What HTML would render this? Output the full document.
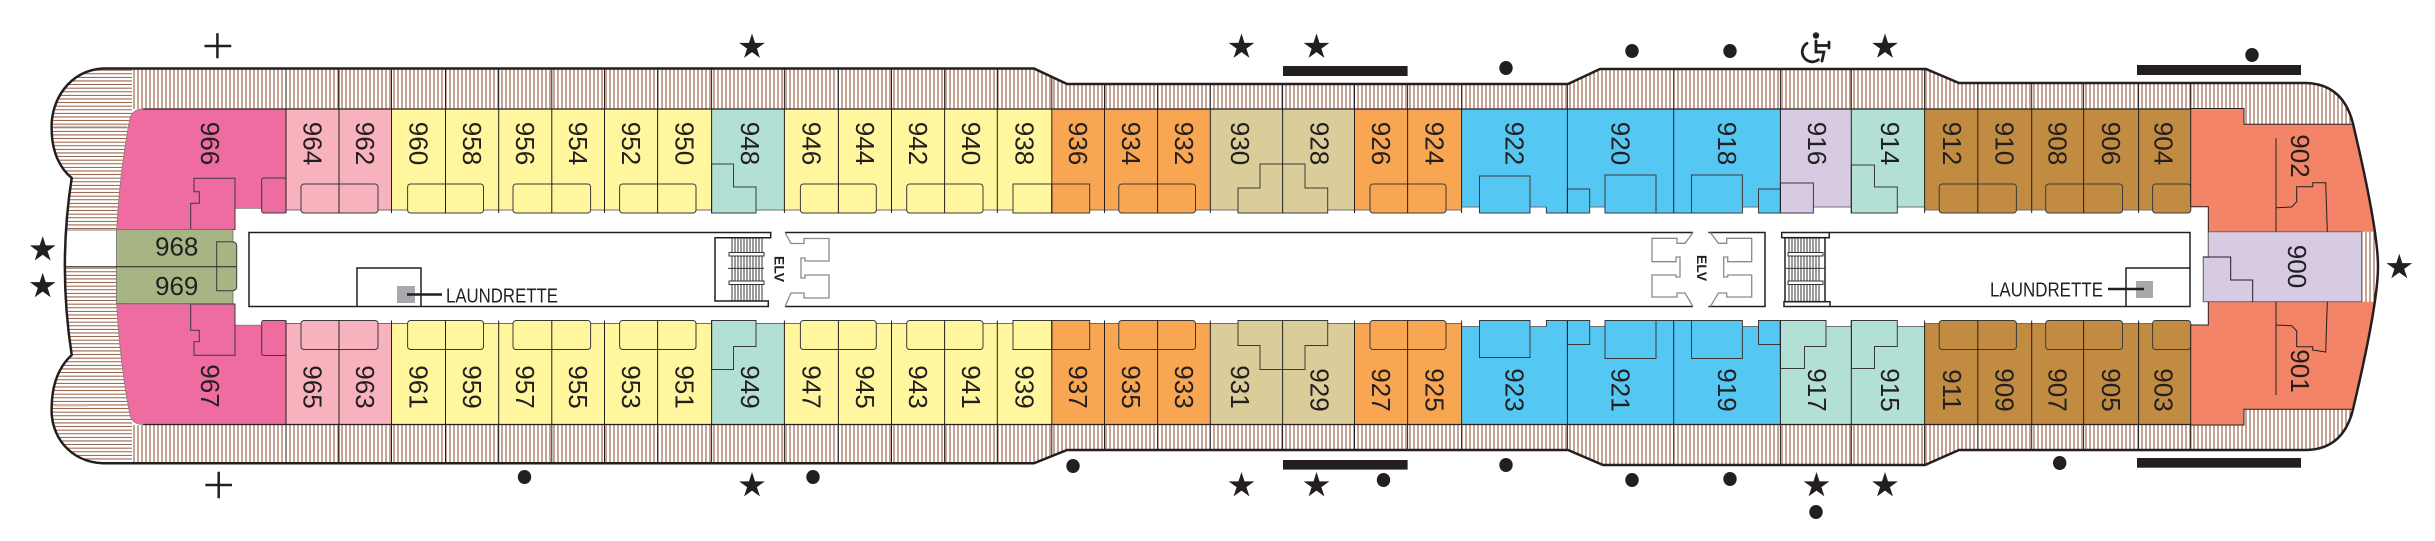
<!DOCTYPE html>
<html><head><meta charset="utf-8"><style>
html,body{margin:0;padding:0;background:#fff;}
svg{display:block;}
text{font-family:"Liberation Sans",sans-serif;fill:#231f20;}
.r{font-size:26px;text-anchor:middle;}
.h{font-size:26px;text-anchor:middle;}
.elv{font-size:14px;font-weight:bold;text-anchor:middle;}
.ld{font-size:20px;}
</style></head><body>
<svg xmlns="http://www.w3.org/2000/svg" width="2435" height="541" viewBox="0 0 2435 541">
<defs>
<pattern id="hv" width="4" height="8" patternUnits="userSpaceOnUse"><rect width="4" height="8" fill="#fff"/><rect x="1.5" width="1" height="8" fill="#8C4B2D"/></pattern>
<pattern id="hh" width="8" height="3.6" patternUnits="userSpaceOnUse"><rect width="8" height="3.6" fill="#fff"/><rect y="1.3" width="8" height="0.9" fill="#8C4B2D"/></pattern>
<clipPath id="hullClip"><path d="M103,68.5 L1034,68.5 L1067,84 L1568,84 L1600,69 L1926,69 L1959,83 L2306,83 Q2345,84 2354,128 Q2378,230 2378,266.5 Q2378,303 2354,405 Q2345,449.5 2306,450 L1959,450 L1925,465 L1603,465 L1568,450 L1067,450 L1034,463.3 L103,463.3 C70,462 50,436 51.7,407 C52,380 62,364 71.7,355 Q58,266.5 71.7,178 C62,170 52,155 51.7,130 C50,100 70,70 103,68.5 Z"/></clipPath>
<clipPath id="cl"><rect x="0" y="0" width="132" height="541"/></clipPath>
<clipPath id="cr"><rect x="132" y="0" width="2303" height="541"/></clipPath>
<path id="star" d="M0,-13.5 L3.03,-4.17 L12.84,-4.17 L4.91,1.59 L7.94,10.92 L0,5.16 L-7.94,10.92 L-4.91,1.59 L-12.84,-4.17 L-3.03,-4.17 Z" fill="#231f20"/>
</defs>

<!-- hatch fills -->
<path d="M103,68.5 L1034,68.5 L1067,84 L1568,84 L1600,69 L1926,69 L1959,83 L2306,83 Q2345,84 2354,128 Q2378,230 2378,266.5 Q2378,303 2354,405 Q2345,449.5 2306,450 L1959,450 L1925,465 L1603,465 L1568,450 L1067,450 L1034,463.3 L103,463.3 C70,462 50,436 51.7,407 C52,380 62,364 71.7,355 Q58,266.5 71.7,178 C62,170 52,155 51.7,130 C50,100 70,70 103,68.5 Z" fill="url(#hh)" clip-path="url(#cl)"/>
<path d="M103,68.5 L1034,68.5 L1067,84 L1568,84 L1600,69 L1926,69 L1959,83 L2306,83 Q2345,84 2354,128 Q2378,230 2378,266.5 Q2378,303 2354,405 Q2345,449.5 2306,450 L1959,450 L1925,465 L1603,465 L1568,450 L1067,450 L1034,463.3 L103,463.3 C70,462 50,436 51.7,407 C52,380 62,364 71.7,355 Q58,266.5 71.7,178 C62,170 52,155 51.7,130 C50,100 70,70 103,68.5 Z" fill="url(#hv)" clip-path="url(#cr)"/>

<!-- bow white patch and light lines -->
<path d="M60,230 L116.5,230 L116.5,266.7 L60,266.7 Z" fill="#fff" clip-path="url(#hullClip)"/>
<path d="M60,230 H116.5" stroke="#555" stroke-width="0.8" clip-path="url(#hullClip)"/>
<path d="M53,126.7 H127" stroke="#cdbcbc" stroke-width="1.6"/>
<path d="M55,405.7 H88" stroke="#cdbcbc" stroke-width="1.6"/>

<!-- white interior -->
<rect x="132" y="109" width="2078" height="316" fill="#fff"/>

<!-- top row -->
<g id="rowTop">
 <path d="M143,109 H286 V213 H264 Q261.7,213 261.7,210.5 V208.3 H235 V229.5 H116.7 Q120,170 129.5,121 Q131,109 143,109 Z" fill="#EF6CA0" stroke="#8a7a80" stroke-width="0.8"/>
 <rect x="286" y="109" width="105.5" height="101" fill="#F7B2BE"/>
 <rect x="391.5" y="109" width="320.1" height="101" fill="#FFF69D"/>
 <rect x="711.6" y="109" width="72.8" height="101" fill="#B3E0D5"/>
 <rect x="784.4" y="109" width="267.4" height="101" fill="#FFF69D"/>
 <rect x="1051.8" y="109" width="158.5" height="101" fill="#F8A652"/>
 <rect x="1210.3" y="109" width="144.2" height="101" fill="#DACD9A"/>
 <rect x="1354.5" y="109" width="107.1" height="101" fill="#F8A652"/>
 <rect x="1461.6" y="109" width="318.8" height="98" fill="#54C8F2"/>
 <rect x="1780.4" y="109" width="70.9" height="98" fill="#D7CBE3"/>
 <rect x="1851.3" y="109" width="73.3" height="98" fill="#B3E0D5"/>
 <rect x="1924.6" y="109" width="266.2" height="101" fill="#C18B42"/>
 <path d="M286,210 H1461.6 M1461.6,207 H1924.6 M1924.6,210 H2190.8" stroke="#6d6e71" stroke-width="1" fill="none"/>
 <g stroke="#3a3a3c" stroke-width="1">
  <path d="M194,178.3 H235 V229.5 H190.7 V203.3 H199.3 V191.7 H194 Z" fill="#EF6CA0"/>
  <rect x="261.7" y="178" width="24.3" height="35" rx="2" fill="#EF6CA0"/>
  <rect x="301" y="184" width="77" height="29" rx="3" fill="#F7B2BE"/>
  <rect x="407.6" y="184" width="75.9" height="29" rx="3" fill="#FFF69D"/>
  <rect x="513" y="184" width="77.6" height="29" rx="3" fill="#FFF69D"/>
  <rect x="619.6" y="184" width="76.4" height="29" rx="3" fill="#FFF69D"/>
  <path d="M711.6,164 H733.5 V187 H756 V213 H711.6 Z" fill="#B3E0D5"/>
  <rect x="800.4" y="184" width="75.9" height="29" rx="3" fill="#FFF69D"/>
  <rect x="906.7" y="184" width="76.3" height="29" rx="3" fill="#FFF69D"/>
  <rect x="1013" y="184" width="38.8" height="29" fill="#FFF69D"/>
  <rect x="1051.8" y="184" width="37.9" height="29" fill="#F8A652"/>
  <rect x="1118.8" y="184" width="76.7" height="29" rx="3" fill="#F8A652"/>
  <path d="M1260,164 H1305 V188 H1327.7 V213 H1238 V188 H1260 Z" fill="#DACD9A"/>
  <rect x="1370" y="184" width="76" height="29" rx="3" fill="#F8A652"/>
  <rect x="1479.5" y="176" width="50.5" height="37" fill="#54C8F2"/>
  <rect x="1546.4" y="206.5" width="21" height="6.5" fill="#54C8F2" stroke="none"/>
  <path d="M1546.4,207 V213 H1567.4" fill="none"/>
  <rect x="1567.4" y="189" width="22.3" height="24" fill="#54C8F2"/>
  <rect x="1656" y="206.5" width="35.5" height="6.5" fill="#54C8F2" stroke="none"/>
  <path d="M1656,213 H1691.5" fill="none"/>
  <rect x="1605" y="175" width="51" height="38" fill="#54C8F2"/>
  <rect x="1691.5" y="175" width="50.9" height="38" fill="#54C8F2"/>
  <rect x="1758.5" y="189" width="21.9" height="24" fill="#54C8F2"/>
  <rect x="1780.4" y="183" width="33" height="30" fill="#D7CBE3"/>
  <path d="M1851.3,165 H1874.5 V187 H1897.3 V213 H1851.3 Z" fill="#B3E0D5"/>
  <rect x="1939.2" y="184" width="77.2" height="29" rx="3" fill="#C18B42"/>
  <rect x="2045.7" y="184" width="76.8" height="29" rx="3" fill="#C18B42"/>
  <rect x="2152.6" y="184" width="38.2" height="29" rx="3" fill="#C18B42"/>
 </g>
</g>
<use href="#rowTop" transform="matrix(1,0,0,-1,0,533.5)"/>
<!-- 917 override -->
<rect x="1780.4" y="326.5" width="70.9" height="98" fill="#B3E0D5"/>
<path d="M1780.4,320.5 H1826 V346.5 H1804.5 V368.5 H1780.4 Z" fill="#B3E0D5" stroke="#3a3a3c" stroke-width="1"/>
<path d="M1826,326.5 H1851.3" stroke="#6d6e71" stroke-width="1"/>

<!-- stern rooms -->
<g clip-path="url(#hullClip)">
 <path d="M2190.7,108.5 H2244 V124.3 H2400 V231.7 H2208.3 V206.7 H2190.7 Z" fill="#F48468"/>
 <path d="M2208.3,301.7 H2400 V409.3 H2244 V425 H2190.7 V325 H2208.3 Z" fill="#F48468"/>
</g>
<path d="M2208.3,231.7 H2361.7 V301.7 H2203.3 V257 H2208.3 Z" fill="#D7CBE3" stroke="#6d6e71" stroke-width="1.2"/>
<g stroke="#231f20" stroke-width="1" fill="none">
 <path d="M2190.7,206.7 V108.5 H2244 V124.3 H2353"/>
 <path d="M2190.7,206.7 H2208.3 V231.7"/>
 <path d="M2190.7,325 V425 H2244 V409.3 H2353"/>
 <path d="M2190.7,325 H2208.3 V301.7"/>
 <path d="M2276,138.3 V231.7"/>
 <path d="M2276,207.7 L2291.7,207 L2296.7,201.7 V186.7 H2312.7 V182.7 H2325.7 L2327.3,231.7"/>
 <path d="M2276,301.7 V395"/>
 <path d="M2276,325 L2291.7,325.7 L2296.7,331 V346.7 H2312.7 V350 L2325.7,352 L2327.3,301.7"/>
 <path d="M2203.3,257 H2230.7 V280 H2252.7 V301.7"/>
</g>

<!-- dividers -->
<g stroke="#231f20" stroke-width="1" clip-path="url(#hullClip)">
 <path d="M286,60V213M339,60V213M391.5,60V213M445.5,60V213M498.7,60V213M551.8,60V213M604.5,60V213M657.6,60V213M711.6,60V213M784.4,60V213M838.4,60V213M891.5,60V213M944.6,60V213M997.3,60V213M1051.8,60V213M1104.5,60V213M1157.6,60V213M1210.3,60V213M1282.6,60V213M1354.5,60V213M1407.6,60V213M1461.6,60V213M1567.4,60V213M1673.7,60V213M1780.4,60V213M1851.3,60V213M1924.6,60V213M1977.8,60V213M2031.7,60V213M2083.6,60V213M2138.6,60V213M2190.8,60V108"/>
 <path d="M286,320.5V475M339,320.5V475M391.5,320.5V475M445.5,320.5V475M498.7,320.5V475M551.8,320.5V475M604.5,320.5V475M657.6,320.5V475M711.6,320.5V475M784.4,320.5V475M838.4,320.5V475M891.5,320.5V475M944.6,320.5V475M997.3,320.5V475M1051.8,320.5V475M1104.5,320.5V475M1157.6,320.5V475M1210.3,320.5V475M1282.6,320.5V475M1354.5,320.5V475M1407.6,320.5V475M1461.6,320.5V475M1567.4,320.5V475M1673.7,320.5V475M1780.4,320.5V475M1851.3,320.5V475M1924.6,320.5V475M1977.8,320.5V475M2031.7,320.5V475M2083.6,320.5V475M2138.6,320.5V475M2190.8,425V475"/>
 <path d="M143,109 H2190.8 M143,424.5 H2190.8" stroke-width="1.2"/>
</g>

<!-- green 968/969 -->
<rect x="116.5" y="229.5" width="116.5" height="74" fill="#A7B584" stroke="#6d6e71" stroke-width="0.8"/>
<path d="M216.7,241.7 H232 Q236.7,241.7 236.7,246 V286 Q236.7,290.7 232,290.7 H216.7 Z" fill="#A7B584" stroke="#3a3a3c" stroke-width="1"/>
<path d="M64.9,266.7 H236.7" stroke="#231f20" stroke-width="1"/>

<!-- hull outline -->
<path d="M103,68.5 L1034,68.5 L1067,84 L1568,84 L1600,69 L1926,69 L1959,83 L2306,83 Q2345,84 2354,128 Q2378,230 2378,266.5 Q2378,303 2354,405 Q2345,449.5 2306,450 L1959,450 L1925,465 L1603,465 L1568,450 L1067,450 L1034,463.3 L103,463.3 C70,462 50,436 51.7,407 C52,380 62,364 71.7,355 Q58,266.5 71.7,178 C62,170 52,155 51.7,130 C50,100 70,70 103,68.5 Z" fill="none" stroke="#231f20" stroke-width="2.5"/>

<!-- corridor -->
<g stroke="#231f20" stroke-width="1.5" fill="none">
 <path d="M249,232.5 H770.7 V237.7 H715 V301 H768.3 V306.5 H249 Z"/>
 <path d="M785,232.5 H1693 M1708.4,232.5 H1765 V306.5 H1708.4 M1693,306.5 H785"/>
 <rect x="1781.7" y="232.5" width="47.6" height="5.2"/>
 <rect x="1785" y="237.7" width="40" height="64"/>
 <rect x="1784" y="301.7" width="46" height="4.8"/>
 <path d="M1829.3,232.5 H2190 V306.5 H1830"/>
 <path d="M357,306.5 V268 H421 V306.5"/>
 <path d="M2126,306.5 V268 H2190"/>
</g>
<!-- stairs -->
<g stroke="#231f20" stroke-width="0.9">
 <path d="M732,238V301M735,238V301M738,238V301M741,238V301M744,238V301M747,238V301M750,238V301M753,238V301M756,238V301M759,238V301M762,238V301M728,268.3H764"/>
 <rect x="729" y="252.5" width="35" height="3.5" fill="#fff"/>
 <rect x="729" y="281" width="35" height="3.5" fill="#fff"/>
 <path d="M1789,238V301M1792,238V301M1795,238V301M1798,238V301M1801,238V301M1804,238V301M1807,238V301M1810,238V301M1813,238V301M1816,238V301M1819,238V301M1786,268.3H1825"/>
 <rect x="1788" y="252.5" width="35" height="3.5" fill="#fff"/>
 <rect x="1788" y="281" width="35" height="3.5" fill="#fff"/>
</g>
<!-- elevators -->
<g stroke="#8a8a8c" stroke-width="1.3" fill="none">
 <path d="M785,232.5 L791,243.5 H804 V238.5 H829 V261 H805 V258 H801 V278 H805 V275 H829 V298 H804 V293 H791 L785,306.5"/>
 <path d="M1693,232.5 L1685,243.3 H1677 V238.3 H1652 V261.7 H1676 V257 H1680 V277 H1676 V275 H1652 V297 H1677 V293 H1685 L1693,306.5"/>
 <path d="M1710.4,232.5 L1718.4,243.3 H1726.7 V238.3 H1751.7 V261.7 H1727.7 V257 H1723.7 V277 H1727.7 V275 H1751.7 V297 H1726.7 V293 H1718.4 L1710.4,306.5"/>
</g>
<text class="elv" x="779.3" y="269" dy="0.35em" transform="rotate(90 779.3 269)">ELV</text>
<text class="elv" x="1702" y="268" dy="0.35em" transform="rotate(90 1702 268)">ELV</text>

<!-- laundrettes -->
<rect x="397" y="286" width="18" height="17" fill="#A7A9AC"/>
<path d="M407,294.5 H442" stroke="#231f20" stroke-width="2.5"/>
<text class="ld" x="446" y="302.5" textLength="112" lengthAdjust="spacingAndGlyphs">LAUNDRETTE</text>
<rect x="2136" y="281" width="17" height="17" fill="#A7A9AC"/>
<path d="M2108,289 H2144" stroke="#231f20" stroke-width="2.5"/>
<text class="ld" x="1990" y="296.7" textLength="113" lengthAdjust="spacingAndGlyphs">LAUNDRETTE</text>

<!-- room labels top -->
<g class="r">
<text class="r" x="210" y="143.5" dy="0.35em" transform="rotate(90 210 143.5)">966</text>
<text class="r" x="312.5" y="143.5" dy="0.35em" transform="rotate(90 312.5 143.5)">964</text>
<text class="r" x="365.3" y="143.5" dy="0.35em" transform="rotate(90 365.3 143.5)">962</text>
<text class="r" x="418.5" y="143.5" dy="0.35em" transform="rotate(90 418.5 143.5)">960</text>
<text class="r" x="472.1" y="143.5" dy="0.35em" transform="rotate(90 472.1 143.5)">958</text>
<text class="r" x="525.3" y="143.5" dy="0.35em" transform="rotate(90 525.3 143.5)">956</text>
<text class="r" x="578.2" y="143.5" dy="0.35em" transform="rotate(90 578.2 143.5)">954</text>
<text class="r" x="631" y="143.5" dy="0.35em" transform="rotate(90 631 143.5)">952</text>
<text class="r" x="684.6" y="143.5" dy="0.35em" transform="rotate(90 684.6 143.5)">950</text>
<text class="r" x="750" y="143.5" dy="0.35em" transform="rotate(90 750 143.5)">948</text>
<text class="r" x="811.4" y="143.5" dy="0.35em" transform="rotate(90 811.4 143.5)">946</text>
<text class="r" x="865" y="143.5" dy="0.35em" transform="rotate(90 865 143.5)">944</text>
<text class="r" x="918" y="143.5" dy="0.35em" transform="rotate(90 918 143.5)">942</text>
<text class="r" x="971" y="143.5" dy="0.35em" transform="rotate(90 971 143.5)">940</text>
<text class="r" x="1024.5" y="143.5" dy="0.35em" transform="rotate(90 1024.5 143.5)">938</text>
<text class="r" x="1078.2" y="143.5" dy="0.35em" transform="rotate(90 1078.2 143.5)">936</text>
<text class="r" x="1131" y="143.5" dy="0.35em" transform="rotate(90 1131 143.5)">934</text>
<text class="r" x="1184" y="143.5" dy="0.35em" transform="rotate(90 1184 143.5)">932</text>
<text class="r" x="1240" y="143.5" dy="0.35em" transform="rotate(90 1240 143.5)">930</text>
<text class="r" x="1319.5" y="143.5" dy="0.35em" transform="rotate(90 1319.5 143.5)">928</text>
<text class="r" x="1381" y="143.5" dy="0.35em" transform="rotate(90 1381 143.5)">926</text>
<text class="r" x="1434.6" y="143.5" dy="0.35em" transform="rotate(90 1434.6 143.5)">924</text>
<text class="r" x="1514.5" y="143.5" dy="0.35em" transform="rotate(90 1514.5 143.5)">922</text>
<text class="r" x="1620.5" y="143.5" dy="0.35em" transform="rotate(90 1620.5 143.5)">920</text>
<text class="r" x="1727" y="143.5" dy="0.35em" transform="rotate(90 1727 143.5)">918</text>
<text class="r" x="1817" y="143.5" dy="0.35em" transform="rotate(90 1817 143.5)">916</text>
<text class="r" x="1890" y="143.5" dy="0.35em" transform="rotate(90 1890 143.5)">914</text>
<text class="r" x="1952" y="143.5" dy="0.35em" transform="rotate(90 1952 143.5)">912</text>
<text class="r" x="2004.8" y="143.5" dy="0.35em" transform="rotate(90 2004.8 143.5)">910</text>
<text class="r" x="2057.7" y="143.5" dy="0.35em" transform="rotate(90 2057.7 143.5)">908</text>
<text class="r" x="2111.1" y="143.5" dy="0.35em" transform="rotate(90 2111.1 143.5)">906</text>
<text class="r" x="2163.5" y="143.5" dy="0.35em" transform="rotate(90 2163.5 143.5)">904</text>
<text class="r" x="2300" y="156" dy="0.35em" transform="rotate(90 2300 156)">902</text>
<text class="r" x="2297" y="266.5" dy="0.35em" transform="rotate(90 2297 266.5)">900</text>
<text class="r" x="2300" y="371" dy="0.35em" transform="rotate(90 2300 371)">901</text>
<!-- bottom -->
<text class="r" x="210" y="386" dy="0.35em" transform="rotate(90 210 386)">967</text>
<text class="r" x="312.5" y="387" dy="0.35em" transform="rotate(90 312.5 387)">965</text>
<text class="r" x="365.3" y="387" dy="0.35em" transform="rotate(90 365.3 387)">963</text>
<text class="r" x="418.5" y="387" dy="0.35em" transform="rotate(90 418.5 387)">961</text>
<text class="r" x="472.1" y="387" dy="0.35em" transform="rotate(90 472.1 387)">959</text>
<text class="r" x="525.3" y="387" dy="0.35em" transform="rotate(90 525.3 387)">957</text>
<text class="r" x="578.2" y="387" dy="0.35em" transform="rotate(90 578.2 387)">955</text>
<text class="r" x="631" y="387" dy="0.35em" transform="rotate(90 631 387)">953</text>
<text class="r" x="684.6" y="387" dy="0.35em" transform="rotate(90 684.6 387)">951</text>
<text class="r" x="750" y="387" dy="0.35em" transform="rotate(90 750 387)">949</text>
<text class="r" x="811.4" y="387" dy="0.35em" transform="rotate(90 811.4 387)">947</text>
<text class="r" x="865" y="387" dy="0.35em" transform="rotate(90 865 387)">945</text>
<text class="r" x="918" y="387" dy="0.35em" transform="rotate(90 918 387)">943</text>
<text class="r" x="971" y="387" dy="0.35em" transform="rotate(90 971 387)">941</text>
<text class="r" x="1024.5" y="387" dy="0.35em" transform="rotate(90 1024.5 387)">939</text>
<text class="r" x="1078.2" y="387" dy="0.35em" transform="rotate(90 1078.2 387)">937</text>
<text class="r" x="1131" y="387" dy="0.35em" transform="rotate(90 1131 387)">935</text>
<text class="r" x="1184" y="387" dy="0.35em" transform="rotate(90 1184 387)">933</text>
<text class="r" x="1240" y="387" dy="0.35em" transform="rotate(90 1240 387)">931</text>
<text class="r" x="1319.5" y="390" dy="0.35em" transform="rotate(90 1319.5 390)">929</text>
<text class="r" x="1381" y="390" dy="0.35em" transform="rotate(90 1381 390)">927</text>
<text class="r" x="1434.6" y="390" dy="0.35em" transform="rotate(90 1434.6 390)">925</text>
<text class="r" x="1514.5" y="390" dy="0.35em" transform="rotate(90 1514.5 390)">923</text>
<text class="r" x="1620.5" y="390" dy="0.35em" transform="rotate(90 1620.5 390)">921</text>
<text class="r" x="1727" y="390" dy="0.35em" transform="rotate(90 1727 390)">919</text>
<text class="r" x="1817" y="390" dy="0.35em" transform="rotate(90 1817 390)">917</text>
<text class="r" x="1890" y="390" dy="0.35em" transform="rotate(90 1890 390)">915</text>
<text class="r" x="1952" y="390" dy="0.35em" transform="rotate(90 1952 390)">911</text>
<text class="r" x="2004.8" y="390" dy="0.35em" transform="rotate(90 2004.8 390)">909</text>
<text class="r" x="2057.7" y="390" dy="0.35em" transform="rotate(90 2057.7 390)">907</text>
<text class="r" x="2111.1" y="390" dy="0.35em" transform="rotate(90 2111.1 390)">905</text>
<text class="r" x="2163.5" y="390" dy="0.35em" transform="rotate(90 2163.5 390)">903</text>
</g>
<text class="h" x="176.7" y="255.5">968</text>
<text class="h" x="176.7" y="295">969</text>

<!-- symbols -->
<use href="#star" x="752" y="47"/>
<use href="#star" x="1241.5" y="47"/>
<use href="#star" x="1316.5" y="47"/>
<use href="#star" x="1885" y="47"/>
<use href="#star" x="752" y="485.5"/>
<use href="#star" x="1241.5" y="485.5"/>
<use href="#star" x="1316.5" y="485.5"/>
<use href="#star" x="1816.5" y="485.5"/>
<use href="#star" x="1885" y="485.5"/>
<use href="#star" x="42.7" y="249.6"/>
<use href="#star" x="42.7" y="286.3"/>
<use href="#star" x="2399.3" y="267.3"/>

<g fill="#231f20">
 <ellipse cx="1506" cy="68" rx="6.7" ry="7"/>
 <ellipse cx="1632" cy="51" rx="6.7" ry="7"/>
 <ellipse cx="1730" cy="51" rx="6.7" ry="7"/>
 <ellipse cx="2252" cy="55" rx="6.7" ry="7"/>
 <ellipse cx="524.5" cy="477" rx="6.7" ry="7"/>
 <ellipse cx="813" cy="477" rx="6.7" ry="7"/>
 <ellipse cx="1073" cy="466" rx="6.7" ry="7"/>
 <ellipse cx="1383.5" cy="480" rx="6.7" ry="7"/>
 <ellipse cx="1506" cy="465" rx="6.7" ry="7"/>
 <ellipse cx="1632" cy="480" rx="6.7" ry="7"/>
 <ellipse cx="1730" cy="479" rx="6.7" ry="7"/>
 <ellipse cx="1816" cy="512" rx="6.7" ry="7"/>
 <ellipse cx="2059.7" cy="463" rx="6.7" ry="7"/>
 <rect x="1283" y="66" width="124.6" height="10"/>
 <rect x="2137" y="65" width="164" height="10"/>
 <rect x="1283" y="460" width="124.6" height="9.6"/>
 <rect x="2137" y="458" width="164" height="9.7"/>
</g>
<g stroke="#231f20" stroke-width="2.5" fill="none">
 <path d="M204.5,46 H231.3 M217.4,33.3 V58.3"/>
 <path d="M205.4,485 H232 M218.7,471.7 V498.3"/>
</g>
<!-- wheelchair -->
<g stroke="#231f20" stroke-width="2.8" fill="none" stroke-linecap="round">
 <path d="M1807,43.3 A10,10 0 1 0 1818.4,59.7"/>
 <path d="M1816,41 V52 H1824 L1822,61"/>
 <path d="M1816,45.5 H1829 M1829,42 V48"/>
</g>
<circle cx="1816" cy="35.5" r="3.2" fill="#231f20"/>
</svg>
</body></html>
